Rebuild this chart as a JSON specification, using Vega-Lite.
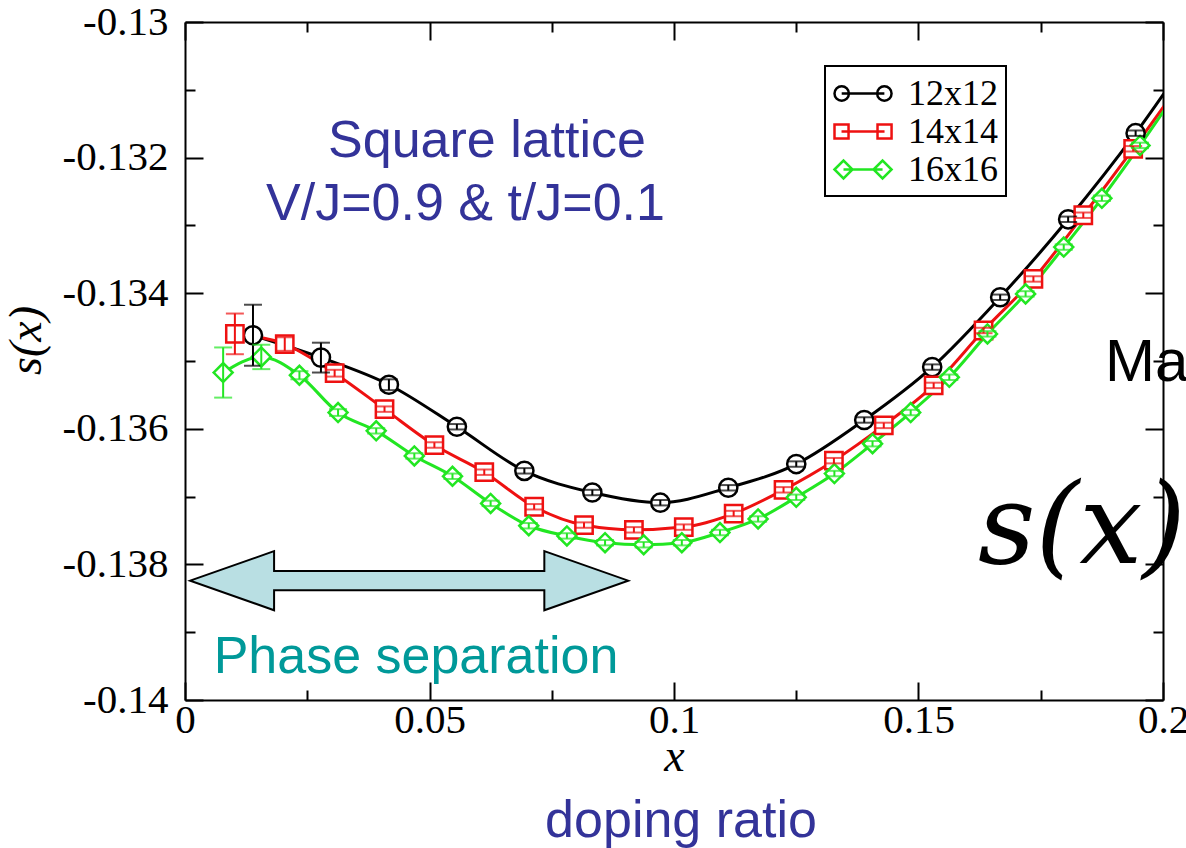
{
  "$schema": "https://vega.github.io/schema/vega-lite/v6.json",
  "width": 978,
  "height": 678,
  "autosize": {"type": "none"},
  "padding": {"left": 185, "top": 22, "right": 23, "bottom": 148},
  "background": "white",
  "config": {
    "view": {"stroke": null},
    "axis": {
      "grid": false,
      "domainColor": "black",
      "domainWidth": 2,
      "tickColor": "black",
      "tickWidth": 2,
      "labelFont": "Liberation Serif",
      "labelFontSize": 41,
      "labelColor": "black",
      "labelFlush": false,
      "labelOverlap": false,
      "labelBound": false,
      "titleFont": "Liberation Serif",
      "titleFontStyle": "italic",
      "titleFontWeight": "normal",
      "titleFontSize": 46,
      "titleColor": "black"
    }
  },
  "datasets": {
    "curves": [
      {"series": "12x12", "x": 0.0139, "y": -0.13462, "err": 0.00045},
      {"series": "12x12", "x": 0.0278, "y": -0.13495, "err": 0.00022},
      {"series": "12x12", "x": 0.0417, "y": -0.13535, "err": 0.00008},
      {"series": "12x12", "x": 0.0556, "y": -0.13597, "err": 0.00004},
      {"series": "12x12", "x": 0.0694, "y": -0.13662, "err": 0.00004},
      {"series": "12x12", "x": 0.0833, "y": -0.13694, "err": 0.00004},
      {"series": "12x12", "x": 0.0972, "y": -0.13709, "err": 0.00004},
      {"series": "12x12", "x": 0.1111, "y": -0.13687, "err": 0.00004},
      {"series": "12x12", "x": 0.125, "y": -0.13652, "err": 0.00004},
      {"series": "12x12", "x": 0.1389, "y": -0.13587, "err": 0.00004},
      {"series": "12x12", "x": 0.1528, "y": -0.13509, "err": 0.00004},
      {"series": "12x12", "x": 0.1667, "y": -0.13406, "err": 0.00004},
      {"series": "12x12", "x": 0.1806, "y": -0.13291, "err": 0.00004},
      {"series": "12x12", "x": 0.1944, "y": -0.13164, "err": 0.00004},
      {"series": "12x12", "x": 0.2083, "y": -0.1302, "err": 0.00004},
      {"series": "14x14", "x": 0.0102, "y": -0.1346, "err": 0.0003},
      {"series": "14x14", "x": 0.0204, "y": -0.13475, "err": 0.0001},
      {"series": "14x14", "x": 0.0306, "y": -0.13518, "err": 0.00005},
      {"series": "14x14", "x": 0.0408, "y": -0.13571, "err": 0.00004},
      {"series": "14x14", "x": 0.051, "y": -0.13624, "err": 0.00004},
      {"series": "14x14", "x": 0.0612, "y": -0.13664, "err": 0.00004},
      {"series": "14x14", "x": 0.0714, "y": -0.13715, "err": 0.00004},
      {"series": "14x14", "x": 0.0816, "y": -0.13742, "err": 0.00004},
      {"series": "14x14", "x": 0.0918, "y": -0.13749, "err": 0.00004},
      {"series": "14x14", "x": 0.102, "y": -0.13745, "err": 0.00004},
      {"series": "14x14", "x": 0.1122, "y": -0.13725, "err": 0.00004},
      {"series": "14x14", "x": 0.1224, "y": -0.1369, "err": 0.00004},
      {"series": "14x14", "x": 0.1327, "y": -0.13647, "err": 0.00004},
      {"series": "14x14", "x": 0.1429, "y": -0.13595, "err": 0.00004},
      {"series": "14x14", "x": 0.1531, "y": -0.13536, "err": 0.00004},
      {"series": "14x14", "x": 0.1633, "y": -0.13455, "err": 0.00004},
      {"series": "14x14", "x": 0.1735, "y": -0.13379, "err": 0.00004},
      {"series": "14x14", "x": 0.1837, "y": -0.13285, "err": 0.00004},
      {"series": "14x14", "x": 0.1939, "y": -0.13187, "err": 0.00004},
      {"series": "14x14", "x": 0.2041, "y": -0.13085, "err": 0.00004},
      {"series": "16x16", "x": 0.0078, "y": -0.13517, "err": 0.00037},
      {"series": "16x16", "x": 0.0156, "y": -0.13494, "err": 0.00018},
      {"series": "16x16", "x": 0.0234, "y": -0.13521, "err": 0.00006},
      {"series": "16x16", "x": 0.0313, "y": -0.13576, "err": 0.00005},
      {"series": "16x16", "x": 0.0391, "y": -0.13603, "err": 0.00004},
      {"series": "16x16", "x": 0.0469, "y": -0.1364, "err": 0.00004},
      {"series": "16x16", "x": 0.0547, "y": -0.1367, "err": 0.00004},
      {"series": "16x16", "x": 0.0625, "y": -0.1371, "err": 0.00004},
      {"series": "16x16", "x": 0.0703, "y": -0.13743, "err": 0.00004},
      {"series": "16x16", "x": 0.0781, "y": -0.13758, "err": 0.00004},
      {"series": "16x16", "x": 0.0859, "y": -0.13768, "err": 0.00004},
      {"series": "16x16", "x": 0.0938, "y": -0.13771, "err": 0.00004},
      {"series": "16x16", "x": 0.1016, "y": -0.13768, "err": 0.00004},
      {"series": "16x16", "x": 0.1094, "y": -0.13753, "err": 0.00004},
      {"series": "16x16", "x": 0.1172, "y": -0.13733, "err": 0.00004},
      {"series": "16x16", "x": 0.125, "y": -0.13701, "err": 0.00004},
      {"series": "16x16", "x": 0.1328, "y": -0.13666, "err": 0.00004},
      {"series": "16x16", "x": 0.1406, "y": -0.13622, "err": 0.00004},
      {"series": "16x16", "x": 0.1484, "y": -0.13576, "err": 0.00004},
      {"series": "16x16", "x": 0.1563, "y": -0.13524, "err": 0.00004},
      {"series": "16x16", "x": 0.1641, "y": -0.1346, "err": 0.00004},
      {"series": "16x16", "x": 0.1719, "y": -0.13401, "err": 0.00004},
      {"series": "16x16", "x": 0.1797, "y": -0.13332, "err": 0.00004},
      {"series": "16x16", "x": 0.1875, "y": -0.1326, "err": 0.00004},
      {"series": "16x16", "x": 0.1953, "y": -0.13182, "err": 0.00004},
      {"series": "16x16", "x": 0.2031, "y": -0.131, "err": 0.00004}
    ]
  },
  "resolve": {"axis": {"x": "independent", "y": "independent"}},
  "layer": [
    {
      "data": {"name": "curves"},
      "mark": {"type": "line", "strokeWidth": 3, "interpolate": "monotone", "clip": true},
      "encoding": {
        "x": {
          "field": "x", "type": "quantitative",
          "scale": {"domain": [0, 0.2], "nice": false, "zero": false},
          "axis": {
            "orient": "bottom",
            "title": "x",
            "titlePadding": -14,
            "values": [0, 0.025, 0.05, 0.075, 0.1, 0.125, 0.15, 0.175, 0.2],
            "labelExpr": "round(datum.value*40) % 2 == 0 ? format(datum.value, '~g') : ''",
            "tickSize": {"condition": {"test": "round(datum.value*40) % 2 == 0", "value": -18}, "value": -10},
            "labelPadding": 18
          }
        },
        "y": {
          "field": "y", "type": "quantitative",
          "scale": {"domain": [-0.14, -0.13], "nice": false, "zero": false},
          "axis": {
            "orient": "left",
            "title": "s(x)",
            "titleX": -135,
            "titleY": 318,
            "values": [-0.14, -0.139, -0.138, -0.137, -0.136, -0.135, -0.134, -0.133, -0.132, -0.131, -0.13],
            "labelExpr": "round(datum.value*1000) % 2 == 0 ? '-' + format(abs(datum.value), '~g') : ''",
            "tickSize": {"condition": {"test": "round(datum.value*1000) % 2 == 0", "value": -18}, "value": -10},
            "labelPadding": 35
          }
        },
        "color": {
          "field": "series", "type": "nominal",
          "scale": {"domain": ["12x12", "14x14", "16x16"], "range": ["#000000", "#ee1111", "#22e622"]},
          "legend": {
            "orient": "none",
            "legendX": 640,
            "legendY": 44,
            "title": null,
            "padding": 8,
            "strokeColor": "black",
            "fillColor": "white",
            "labelFont": "Liberation Serif",
            "labelFontSize": 36,
            "labelColor": "black",
            "labelOffset": 36,
            "symbolSize": 1296,
            "symbolStrokeWidth": 2.5,
            "rowPadding": 0,
            "encode": {
              "legend": {"update": {"strokeWidth": {"value": 2}}},
              "symbols": {
                "update": {
                  "fill": {"value": "transparent"},
                  "shape": {"signal": "datum.value === '12x12' ? 'M-1,0 A0.4,0.4 0 1,1 -0.2,0 A0.4,0.4 0 1,1 -1,0 Z M-0.6,0 L1.77,0 M1.37,0 A0.4,0.4 0 1,1 2.17,0 A0.4,0.4 0 1,1 1.37,0 Z' : (datum.value === '14x14' ? 'M-1,-0.39 L-0.22,-0.39 L-0.22,0.39 L-1,0.39 Z M-0.61,0 L1.78,0 M1.39,-0.39 L2.17,-0.39 L2.17,0.39 L1.39,0.39 Z' : 'M-1,0 L-0.5,-0.5 L0,0 L-0.5,0.5 Z M-0.5,0 L1.67,0 M1.17,0 L1.67,-0.5 L2.17,0 L1.67,0.5 Z')"}
                }
              }
            }
          }
        }
      }
    },
    {
      "data": {"name": "curves"},
      "transform": [{"filter": "datum.series == '12x12' && datum.x <= 0.2"}],
      "mark": {"type": "point", "shape": "circle", "filled": true, "fill": "white", "stroke": "#000000", "strokeWidth": 2.5, "size": 330, "opacity": 1},
      "encoding": {
        "x": {
          "field": "x", "type": "quantitative",
          "axis": {
            "orient": "top",
            "title": null,
            "labels": false,
            "values": [0, 0.025, 0.05, 0.075, 0.1, 0.125, 0.15, 0.175, 0.2],
            "tickSize": {"condition": {"test": "round(datum.value*40) % 2 == 0", "value": -18}, "value": -10}
          }
        },
        "y": {
          "field": "y", "type": "quantitative",
          "axis": {
            "orient": "right",
            "title": null,
            "labels": false,
            "values": [-0.14, -0.139, -0.138, -0.137, -0.136, -0.135, -0.134, -0.133, -0.132, -0.131, -0.13],
            "tickSize": {"condition": {"test": "round(datum.value*1000) % 2 == 0", "value": -18}, "value": -10}
          }
        }
      }
    },
    {
      "data": {"name": "curves"},
      "transform": [{"filter": "datum.series == '14x14' && datum.x <= 0.2"}],
      "mark": {"type": "point", "shape": "square", "filled": true, "fill": "white", "stroke": "#ee1111", "strokeWidth": 2.5, "size": 300, "opacity": 1},
      "encoding": {
        "x": {"field": "x", "type": "quantitative", "axis": null},
        "y": {"field": "y", "type": "quantitative", "axis": null}
      }
    },
    {
      "data": {"name": "curves"},
      "transform": [{"filter": "datum.series == '16x16' && datum.x <= 0.2"}],
      "mark": {"type": "point", "shape": "diamond", "filled": true, "fill": "white", "stroke": "#22e622", "strokeWidth": 2.5, "size": 360, "opacity": 1},
      "encoding": {
        "x": {"field": "x", "type": "quantitative", "axis": null},
        "y": {"field": "y", "type": "quantitative", "axis": null}
      }
    },
    {
      "data": {"name": "curves"},
      "transform": [{"filter": "datum.series == '12x12' && datum.x <= 0.2"}],
      "mark": {"type": "errorbar", "color": "#000000", "ticks": {"size": 18, "thickness": 2}, "rule": {"strokeWidth": 2}},
      "encoding": {
        "x": {"field": "x", "type": "quantitative", "axis": null},
        "y": {"field": "y", "type": "quantitative", "axis": null},
        "yError": {"field": "err"}
      }
    },
    {
      "data": {"name": "curves"},
      "transform": [{"filter": "datum.series == '14x14' && datum.x <= 0.2"}],
      "mark": {"type": "errorbar", "color": "#ee1111", "ticks": {"size": 18, "thickness": 2}, "rule": {"strokeWidth": 2}},
      "encoding": {
        "x": {"field": "x", "type": "quantitative", "axis": null},
        "y": {"field": "y", "type": "quantitative", "axis": null},
        "yError": {"field": "err"}
      }
    },
    {
      "data": {"name": "curves"},
      "transform": [{"filter": "datum.series == '16x16' && datum.x <= 0.2"}],
      "mark": {"type": "errorbar", "color": "#22e622", "ticks": {"size": 18, "thickness": 2}, "rule": {"strokeWidth": 2}},
      "encoding": {
        "x": {"field": "x", "type": "quantitative", "axis": null},
        "y": {"field": "y", "type": "quantitative", "axis": null},
        "yError": {"field": "err"}
      }
    },
    {
      "data": {"values": [{"x": 0.04585, "y": -0.13824}]},
      "mark": {"type": "point", "filled": true, "fill": "#b9dfe3", "stroke": "black", "strokeWidth": 2, "opacity": 1, "size": 191844,
        "shape": "M-1,0 L-0.617,-0.135 L-0.617,-0.044 L0.617,-0.044 L0.617,-0.135 L1,0 L0.617,0.135 L0.617,0.044 L-0.617,0.044 L-0.617,0.135 Z"},
      "encoding": {
        "x": {"field": "x", "type": "quantitative", "axis": null},
        "y": {"field": "y", "type": "quantitative", "axis": null}
      }
    },
    {
      "data": {"values": [
        {"label": "Square lattice", "x": 0.06176, "y": -0.13199},
        {"label": "V/J=0.9 & t/J=0.1", "x": 0.05736, "y": -0.13292},
        {"label": "doping ratio", "x": 0.10143, "y": -0.14202}
      ]},
      "mark": {"type": "text", "font": "Liberation Sans", "fontSize": 52, "color": "#333399", "align": "center", "baseline": "alphabetic"},
      "encoding": {
        "x": {"field": "x", "type": "quantitative", "axis": null},
        "y": {"field": "y", "type": "quantitative", "axis": null},
        "text": {"field": "label"}
      }
    },
    {
      "data": {"values": [{"label": "Phase separation", "x": 0.04724, "y": -0.1396}]},
      "mark": {"type": "text", "font": "Liberation Sans", "fontSize": 52, "color": "#009999", "align": "center", "baseline": "alphabetic"},
      "encoding": {
        "x": {"field": "x", "type": "quantitative", "axis": null},
        "y": {"field": "y", "type": "quantitative", "axis": null},
        "text": {"field": "label"}
      }
    },
    {
      "data": {"values": [{"label": "Ma", "x": 0.18814, "y": -0.13529}]},
      "mark": {"type": "text", "font": "Liberation Sans", "fontSize": 60, "color": "black", "align": "left", "baseline": "alphabetic"},
      "encoding": {
        "x": {"field": "x", "type": "quantitative", "axis": null},
        "y": {"field": "y", "type": "quantitative", "axis": null},
        "text": {"field": "label"}
      }
    },
    {
      "data": {"values": [{"label": "s(x)", "x": 0.16217, "y": -0.13798}]},
      "mark": {"type": "text", "font": "DejaVu Serif", "fontStyle": "italic", "fontSize": 112, "color": "black", "align": "left", "baseline": "alphabetic"},
      "encoding": {
        "x": {"field": "x", "type": "quantitative", "axis": null},
        "y": {"field": "y", "type": "quantitative", "axis": null},
        "text": {"field": "label"}
      }
    }
  ]
}
